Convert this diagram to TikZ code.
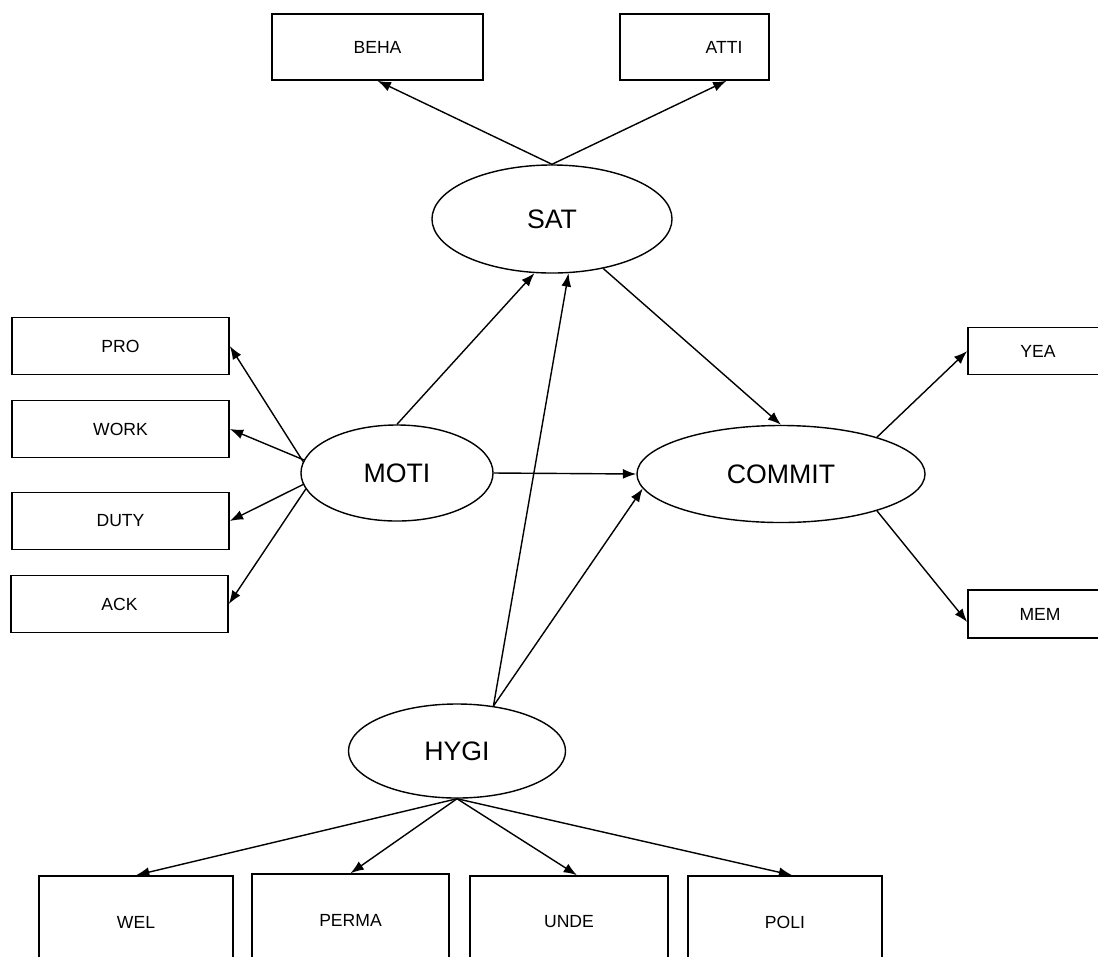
\documentclass[tikz,border=0pt]{standalone}
\usepackage{fontspec}
\setmainfont{Liberation Sans}
\usetikzlibrary{arrows.meta}
\usetikzlibrary{shapes.geometric}
\tikzset{
	obs/.style={draw, line width=1.1pt, rectangle, inner sep=0pt, font=\fontsize{12.5pt}{15pt}\selectfont},
	lat/.style={draw, line width=1pt, ellipse, inner sep=0pt, font=\fontsize{19pt}{23pt}\selectfont},
	path/.style={->, >={Latex[length=9.5pt,width=7pt]}, line width=1pt}
}
\begin{document}
\begin{tikzpicture}[x=0.025cm, y=-0.025cm]
	\clip (0,0) rectangle (1098,956);
	%latent variables
	\node[lat, minimum width=6cm, minimum height=2.7cm] at (552,219) (SAT) {SAT};
	\node[lat, minimum width=4.8cm, minimum height=2.4cm] at (397,473) (MOTI) {MOTI};
	\node[lat, minimum width=7.2cm, minimum height=2.425cm] at (781,474) (COMMIT) {COMMIT};
	\node[lat, minimum width=5.425cm, minimum height=2.35cm] at (457,751) (HYGI) {HYGI};
	%
	%observed variables
	\node[obs, minimum width=5.275cm, minimum height=1.65cm] at (377.5,47) (BEHA) {BEHA};
	\node[obs, minimum width=3.725cm, minimum height=1.65cm] at (694.5,47) (ATTI) {\hspace*{1.48cm}ATTI};
	%
	\node[obs, minimum width=5.425cm, minimum height=1.425cm] at (120.5,346) (PRO) {PRO};
	\node[obs, minimum width=5.425cm, minimum height=1.425cm] at (120.5,429) (WORK) {WORK};
	\node[obs, minimum width=5.425cm, minimum height=1.425cm] at (120.5,521) (DUTY) {DUTY};
	\node[obs, minimum width=5.425cm, minimum height=1.425cm] at (119.5,604) (ACK) {ACK};
	%
	\node[obs, minimum width=3.5cm, minimum height=1.175cm] at (1038,351) (YEA) {YEA};
	\node[obs, minimum width=3.6cm, minimum height=1.2cm] at (1040,614) (MEM) {MEM};
	%
	\node[obs, minimum width=4.85cm, minimum height=2.3cm] at (136,922) (WEL) {WEL};
	\node[obs, minimum width=4.925cm, minimum height=2.3cm] at (350.5,920) (PERMA) {PERMA};
	\node[obs, minimum width=4.95cm, minimum height=2.3cm] at (569,922) (UNDE) {UNDE};
	\node[obs, minimum width=4.85cm, minimum height=2.3cm] at (785,922) (POLI) {POLI};
	%
	%paths
	\draw[path] (SAT.north) -- (BEHA.south);
	\draw[path] (SAT.north) -- ([xshift=0.8cm]ATTI.south);
	\draw[path] (SAT.-44) -- (COMMIT.north);
	%
	\draw[path] (MOTI.173) -- (PRO.east);
	\draw[path] (MOTI.172) -- (WORK.east);
	\draw[path] (MOTI.187) -- (DUTY.east);
	\draw[path] (MOTI.190) -- (ACK.east);
	\draw[path] (MOTI.north) -- (SAT.252);
	\draw[path] (MOTI.east) -- (COMMIT.west);
	%
	\draw[path] (COMMIT.21) -- (YEA.west);
	\draw[path] (COMMIT.-21) -- ([yshift=-0.2cm]MEM.west);
	%
	\draw[path] (HYGI.51) -- (SAT.-73);
	\draw[path] (HYGI.51) -- (COMMIT.186);
	\draw[path] (HYGI.south) -- (WEL.north);
	\draw[path] (HYGI.south) -- (PERMA.north);
	\draw[path] (HYGI.south) -- ([xshift=0.2cm]UNDE.north);
	\draw[path] (HYGI.south) -- ([xshift=0.18cm]POLI.north);
	%
\end{tikzpicture}
\end{document}
